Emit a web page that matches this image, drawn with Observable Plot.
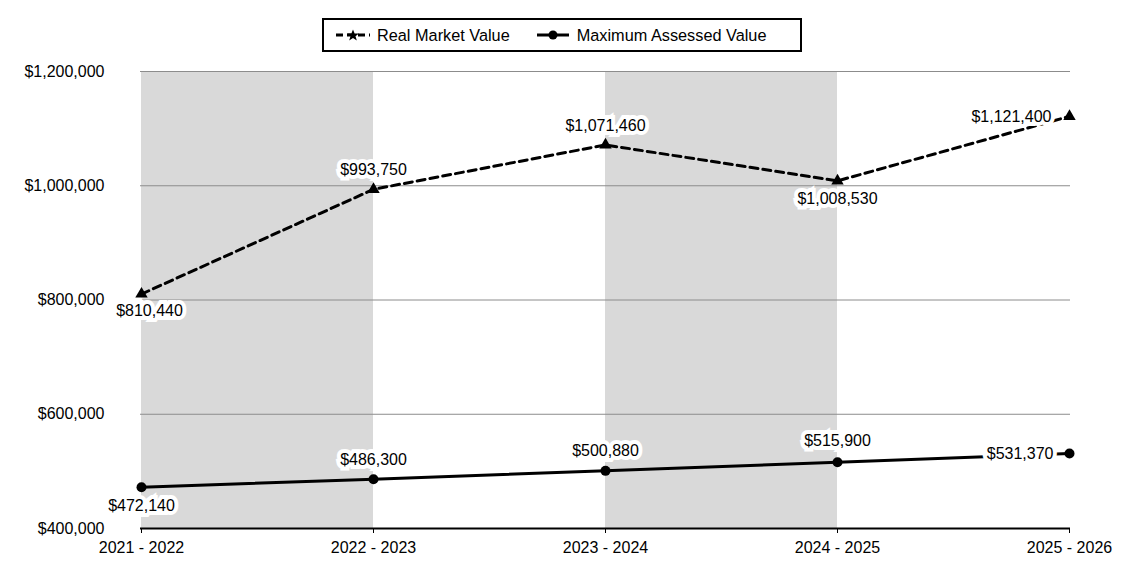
<!DOCTYPE html>
<html><head><meta charset="utf-8">
<script src="https://cdn.jsdelivr.net/npm/d3@7"></script>
<script src="https://cdn.jsdelivr.net/npm/@observablehq/plot@0.6"></script>
<style>
body{margin:0;background:#fff;font-family:"Liberation Sans",Arial,sans-serif;}
#legend{position:absolute;left:322px;top:18px;width:476px;height:30px;border:2px solid #000;display:flex;align-items:center;font-size:16.3px;color:#000;}
#legend .sw{display:block;}
#chart{position:absolute;top:56px;left:0;}
</style></head><body>
<div id="legend">
  <svg class="sw" width="34" height="14" style="margin-left:12px"><line x1="0" y1="7" x2="34" y2="7" stroke="#000" stroke-width="3" stroke-dasharray="7,4"/><polygon points="17,1.5 18.6,5.6 23,5.6 19.5,8.3 20.8,12.5 17,10 13.2,12.5 14.5,8.3 11,5.6 15.4,5.6" fill="#000"/></svg>
  <span style="margin-left:7px">Real Market Value</span>
  <svg class="sw" width="32" height="14" style="margin-left:27px"><line x1="0" y1="7" x2="32" y2="7" stroke="#000" stroke-width="3"/><circle cx="16" cy="7" r="4.5" fill="#000"/></svg>
  <span style="margin-left:8px">Maximum Assessed Value</span>
</div>
<div id="chart"></div>
<script>
const years = ["2021 - 2022", "2022 - 2023", "2023 - 2024", "2024 - 2025", "2025 - 2026"];
const realMarketValue = [810440, 993750, 1071460, 1008530, 1121400];
const maxAssessedValue = [472140, 486300, 500880, 515900, 531370];
const yTicks = [400000, 600000, 800000, 1000000, 1200000];
const shadedBands = [["2021 - 2022", "2022 - 2023"], ["2023 - 2024", "2024 - 2025"]];

const fmt = d3.format("$,");
const market = years.map((y, i) => ({year: y, value: realMarketValue[i], i}));
const assessed = years.map((y, i) => ({year: y, value: maxAssessedValue[i], i}));
const bands = shadedBands.map(([a, b]) => ({x1: a, x2: b, y1: yTicks[0], y2: yTicks[yTicks.length - 1]}));

// label placement (style): per point offsets
const marketPlace = [{dx: 8, dy: 17, a: "middle"}, {dx: 0, dy: -19, a: "middle"}, {dx: 0, dy: -19, a: "middle"}, {dx: 0, dy: 18, a: "middle"}, {dx: -18, dy: 0, a: "end"}];
const assessedPlace = [{dx: 0, dy: 19, a: "middle"}, {dx: 0, dy: -19, a: "middle"}, {dx: 0, dy: -20, a: "middle"}, {dx: 0, dy: -21, a: "middle"}, {dx: -16, dy: 0, a: "end"}];

function labels(data, place) {
  return data.map((d, k) => Plot.text([d], {
    x: "year", y: "value", text: d => fmt(d.value),
    dx: place[k].dx, dy: place[k].dy, textAnchor: place[k].a,
    fill: "#000", stroke: "#fff", strokeWidth: 8, strokeLinejoin: "miter",
    fontSize: 16, fontFamily: "Liberation Sans, Arial, sans-serif"
  }));
}

const chart = Plot.plot({
  width: 1125,
  height: 514,
  marginLeft: 140,
  marginRight: 55,
  marginTop: 15,
  marginBottom: 42,
  style: {fontFamily: "Liberation Sans, Arial, sans-serif", fontSize: "16px", background: "#fff", color: "#000"},
  x: {type: "point", domain: years, padding: 0, label: null},
  y: {domain: [yTicks[0], yTicks[yTicks.length - 1]], label: null},
  marks: [
    Plot.rect(bands, {x1: "x1", x2: "x2", y1: "y1", y2: "y2", fill: "#d9d9d9"}),
    Plot.gridY(yTicks, {stroke: "#8c8c8c", strokeOpacity: 1, strokeWidth: 1}),
    Plot.axisY(yTicks, {tickSize: 0, tickPadding: 36, tickFormat: fmt, fontSize: 16, label: null}),
    Plot.axisX({tickSize: 5, tickPadding: 8, fontSize: 16, label: null, stroke: "#000", strokeWidth: 1}),
    Plot.ruleY([yTicks[0]], {stroke: "#000", strokeWidth: 2}),
    Plot.line(market, {x: "year", y: "value", stroke: "#000", strokeWidth: 3, strokeDasharray: "8,5"}),
    Plot.line(assessed, {x: "year", y: "value", stroke: "#000", strokeWidth: 3}),
    ...labels(market, marketPlace),
    ...labels(assessed, assessedPlace),
    Plot.dot(market, {x: "year", y: "value", symbol: "triangle", r: 4.6, fill: "#000"}),
    Plot.dot(assessed, {x: "year", y: "value", symbol: "circle", r: 5, fill: "#000"})
  ]
});
document.getElementById("chart").appendChild(chart);
</script>
</body></html>
